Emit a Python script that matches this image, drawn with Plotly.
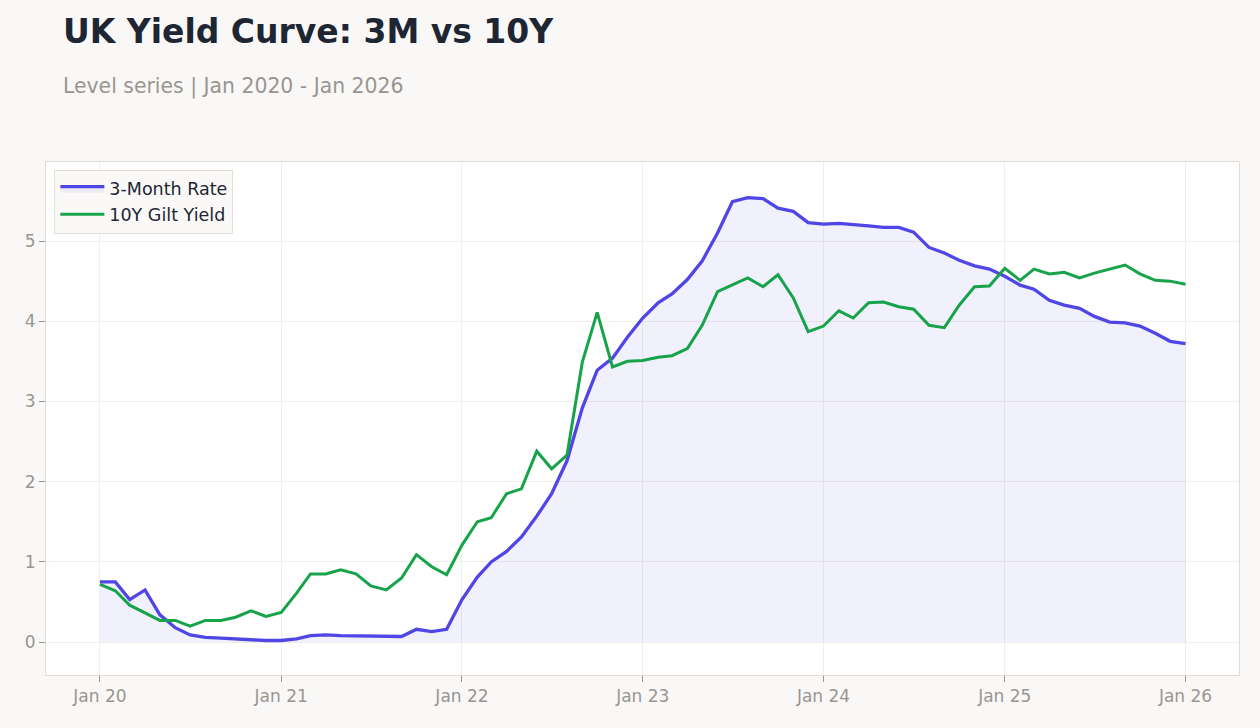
import plotly.graph_objects as go
import pandas as pd

# Monthly observations, Jan 2020 - Jan 2026
dates = pd.date_range("2020-01-01", periods=73, freq="MS")

rate_3m = [
    0.75, 0.75, 0.53, 0.65, 0.34, 0.18, 0.09, 0.06, 0.05, 0.04, 0.03, 0.02,
    0.02, 0.04, 0.08, 0.09, 0.08, 0.08, 0.08, 0.07, 0.07, 0.16, 0.13, 0.16,
    0.53, 0.81, 1.00, 1.13, 1.31, 1.57, 1.85, 2.26, 2.92, 3.39, 3.54, 3.80,
    4.04, 4.23, 4.34, 4.52, 4.75, 5.10, 5.49, 5.54, 5.53, 5.41, 5.37, 5.23,
    5.21, 5.22, 5.21, 5.19, 5.17, 5.17, 5.11, 4.92, 4.85, 4.76, 4.69, 4.65,
    4.56, 4.45, 4.40, 4.26, 4.20, 4.16, 4.06, 3.99, 3.98, 3.94, 3.85, 3.75,
    3.72,
]

gilt_10y = [
    0.72, 0.64, 0.46, 0.36, 0.27, 0.27, 0.20, 0.27, 0.27, 0.31, 0.39, 0.32,
    0.37, 0.61, 0.85, 0.85, 0.90, 0.85, 0.70, 0.65, 0.80, 1.09, 0.94, 0.84,
    1.21, 1.50, 1.55, 1.85, 1.91, 2.38, 2.16, 2.33, 3.49, 4.11, 3.43, 3.50,
    3.51, 3.55, 3.57, 3.66, 3.95, 4.37, 4.45, 4.54, 4.43, 4.58, 4.29, 3.87,
    3.94, 4.13, 4.04, 4.23, 4.24, 4.18, 4.15, 3.95, 3.92, 4.20, 4.43, 4.44,
    4.66, 4.51, 4.65, 4.59, 4.61, 4.54, 4.60, 4.65, 4.70, 4.59, 4.51, 4.50,
    4.46,
]

title_text = "UK Yield Curve: 3M vs 10Y"
subtitle_text = "Level series | Jan 2020 - Jan 2026"

BLUE = "#4f46e5"
GREEN = "#16a34a"
FONT = "DejaVu Sans"
MUTED = "#999590"

fig = go.Figure()
fig.add_trace(go.Scatter(
    x=dates, y=rate_3m, name="3-Month Rate", mode="lines",
    line=dict(color=BLUE, width=3.3),
    fill="tozeroy", fillcolor="rgba(79,70,229,0.08)",
))
fig.add_trace(go.Scatter(
    x=dates, y=gilt_10y, name="10Y Gilt Yield", mode="lines",
    line=dict(color=GREEN, width=3),
))

fig.update_layout(
    width=1260, height=728,
    margin=dict(l=46, r=21, t=162, b=53),
    paper_bgcolor="#f9f8f6",
    plot_bgcolor="#ffffff",
    font=dict(family=FONT, size=17, color=MUTED),
    showlegend=True,
    legend=dict(
        x=0.007, y=0.985, xanchor="left", yanchor="top",
        bgcolor="rgba(249,248,246,0.9)", bordercolor="#e3ded6", borderwidth=1,
        font=dict(family=FONT, size=17.5, color="#1e2533"),
        itemwidth=44,
    ),
    annotations=[
        dict(text="<b>" + title_text + "</b>", xref="paper", yref="paper",
             x=(61 - 46) / 1193, y=(675 - 31) / 513, xanchor="left", yanchor="middle",
             showarrow=False, font=dict(family=FONT, size=33, color="#1e2533")),
        dict(text=subtitle_text, xref="paper", yref="paper",
             x=(61 - 46) / 1193, y=(675 - 86) / 513, xanchor="left", yanchor="middle",
             showarrow=False, font=dict(family=FONT, size=20.4, color=MUTED)),
    ],
)

fig.update_xaxes(
    range=["2019-09-14", "2026-04-19"],
    tickformat="%b %y", dtick="M12", tick0="2020-01-01",
    showgrid=True, gridcolor="#f0eeeb", gridwidth=1,
    showline=True, linecolor="#e0dbd3", linewidth=1, mirror=True,
    ticks="outside", ticklen=6, tickcolor=MUTED,
    tickfont=dict(family=FONT, size=17, color=MUTED),
    zeroline=False,
)
fig.update_yaxes(
    range=[-0.41, 5.985],
    dtick=1, tick0=0,
    showgrid=True, gridcolor="#f0eeeb", gridwidth=1,
    showline=True, linecolor="#e0dbd3", linewidth=1, mirror=True,
    ticks="outside", ticklen=6, tickcolor=MUTED,
    tickfont=dict(family=FONT, size=17, color=MUTED),
    zeroline=False,
)

fig.write_html("out.html")
